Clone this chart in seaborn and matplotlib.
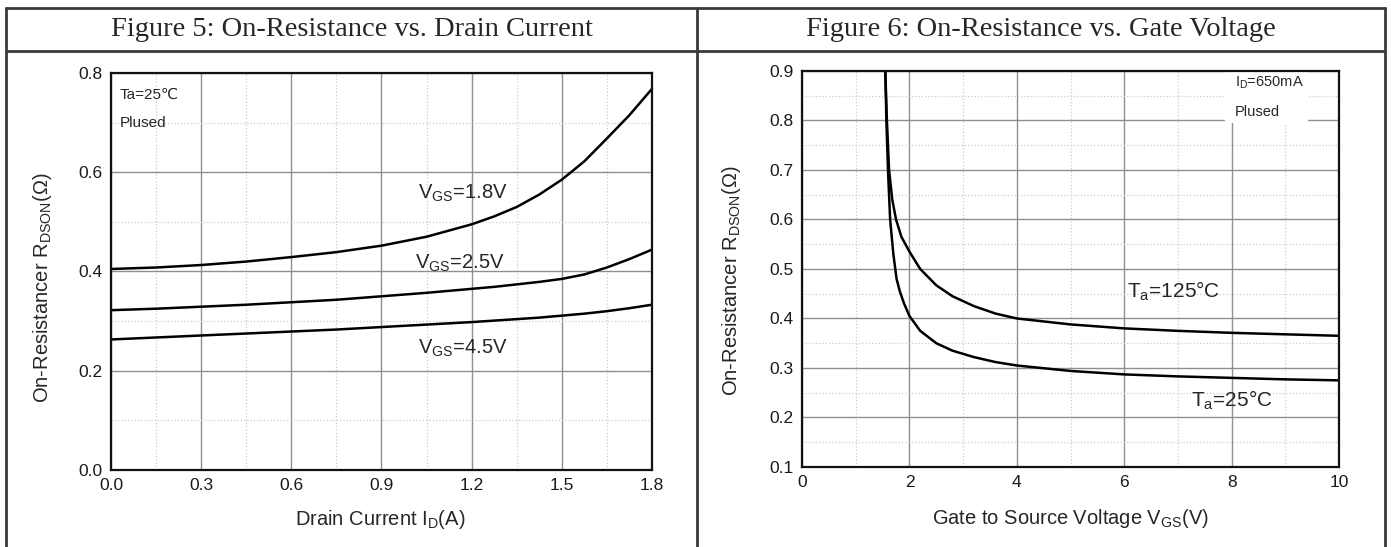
import numpy as np
import pandas as pd
import matplotlib
matplotlib.use("Agg")
import matplotlib.pyplot as plt
from matplotlib.lines import Line2D
from matplotlib.patches import Rectangle
from matplotlib.ticker import MultipleLocator
import seaborn as sns

# ─────────────────────────────────────────────
# DATA
# ─────────────────────────────────────────────

# Figure 5: R_DSON vs drain current
drain_current = [0.0, 0.15, 0.3, 0.45, 0.6, 0.75, 0.9, 1.05, 1.2, 1.275, 1.35, 1.425, 1.5, 1.575, 1.65, 1.725, 1.8]
r_vgs_18 = [0.405, 0.408, 0.413, 0.420, 0.429, 0.439, 0.452, 0.470, 0.495, 0.511, 0.530, 0.555, 0.585, 0.622, 0.668, 0.715, 0.768]
r_vgs_25 = [0.322, 0.325, 0.329, 0.333, 0.338, 0.343, 0.350, 0.357, 0.365, 0.369, 0.374, 0.379, 0.385, 0.394, 0.408, 0.425, 0.444]
r_vgs_45 = [0.263, 0.267, 0.271, 0.275, 0.279, 0.283, 0.288, 0.293, 0.298, 0.301, 0.304, 0.307, 0.311, 0.315, 0.320, 0.326, 0.333]

# Figure 6: R_DSON vs gate voltage
vgs_125 = [1.55, 1.58, 1.62, 1.68, 1.75, 1.85, 2.0, 2.2, 2.5, 2.8, 3.2, 3.6, 4.0, 5.0, 6.0, 7.0, 8.0, 9.0, 10.0]
r_125 = [0.9, 0.8, 0.7, 0.64, 0.6, 0.565, 0.535, 0.50, 0.467, 0.445, 0.425, 0.41, 0.40, 0.388, 0.38, 0.375, 0.371, 0.368, 0.365]
vgs_25c = [1.55, 1.57, 1.6, 1.64, 1.7, 1.76, 1.82, 1.9, 2.0, 2.2, 2.5, 2.8, 3.2, 3.6, 4.0, 5.0, 6.0, 7.0, 8.0, 9.0, 10.0]
r_25c = [0.9, 0.8, 0.7, 0.6, 0.53, 0.48, 0.455, 0.43, 0.405, 0.375, 0.35, 0.335, 0.322, 0.312, 0.305, 0.294, 0.287, 0.283, 0.28, 0.277, 0.275]

titles = ["Figure 5: On-Resistance vs. Drain Current", "Figure 6: On-Resistance vs. Gate Voltage"]

# ─────────────────────────────────────────────
# STYLE
# ─────────────────────────────────────────────

sns.set_style("white")
plt.rcParams["font.family"] = ["Liberation Sans", "DejaVu Sans"]
plt.rcParams["mathtext.fontset"] = "custom"
plt.rcParams["mathtext.rm"] = "Liberation Sans"
plt.rcParams["mathtext.it"] = "Liberation Sans:italic"

fig = plt.figure(figsize=(13.91, 5.47), dpi=100)
ax1 = fig.add_axes([0.0798, 0.1408, 0.3889, 0.7258])
ax2 = fig.add_axes([0.5766, 0.1463, 0.3861, 0.7239])


def style_axes(ax):
    ax.grid(True, which="major", color="#8f8f8f", linewidth=1.0, linestyle="-")
    ax.grid(True, which="minor", color="#cccccc", linewidth=0.9, linestyle=":")
    ax.set_axisbelow(True)
    for sp in ax.spines.values():
        sp.set_color("#111111")
        sp.set_linewidth(1.6)
        sp.set_visible(True)
    ax.tick_params(which="both", length=0, pad=6, labelsize=12.5, colors="#1a1a1a")


# ── Figure 5 ──
df5 = pd.DataFrame({
    "I": drain_current * 3,
    "R": r_vgs_18 + r_vgs_25 + r_vgs_45,
    "VGS": ["1.8"] * len(drain_current) + ["2.5"] * len(drain_current) + ["4.5"] * len(drain_current),
})
sns.lineplot(data=df5, x="I", y="R", hue="VGS", palette=["black"] * 3,
             linewidth=1.8, legend=False, ax=ax1)
ax1.set_xlim(0, 1.8)
ax1.set_ylim(0, 0.8)
ax1.xaxis.set_major_locator(MultipleLocator(0.3))
ax1.xaxis.set_minor_locator(MultipleLocator(0.15))
ax1.yaxis.set_major_locator(MultipleLocator(0.2))
ax1.yaxis.set_minor_locator(MultipleLocator(0.1))
ax1.xaxis.set_major_formatter(plt.FormatStrFormatter("%.1f"))
ax1.yaxis.set_major_formatter(plt.FormatStrFormatter("%.1f"))
style_axes(ax1)
ax1.set_xlabel(r"Drain Current I$_{\mathrm{D}}$(A)", fontsize=14.5)
ax1.set_ylabel(r"On-Resistancer R$_{\mathrm{DSON}}$($\Omega$)", fontsize=14.5)
ax1.xaxis.set_label_coords(0.497, -0.095)
ax1.yaxis.set_label_coords(-0.105, 0.458)

ax1.text(0.03, 0.755, "Ta=25℃", fontsize=11, va="center")
ax1.text(0.03, 0.70, "Plused", fontsize=11, va="center")
ax1.text(1.02, 0.558, r"V$_{\mathrm{GS}}$=1.8V", fontsize=14.5, va="center")
ax1.text(1.01, 0.417, r"V$_{\mathrm{GS}}$=2.5V", fontsize=14.5, va="center")
ax1.text(1.02, 0.245, r"V$_{\mathrm{GS}}$=4.5V", fontsize=14.5, va="center")

# ── Figure 6 ──
df6 = pd.DataFrame({
    "V": vgs_125 + vgs_25c,
    "R": r_125 + r_25c,
    "Ta": ["125"] * len(vgs_125) + ["25"] * len(vgs_25c),
})
sns.lineplot(data=df6, x="V", y="R", hue="Ta", palette=["black"] * 2, sort=False,
             linewidth=1.8, legend=False, ax=ax2)
ax2.set_xlim(0, 10)
ax2.set_ylim(0.1, 0.9)
ax2.xaxis.set_major_locator(MultipleLocator(2))
ax2.xaxis.set_minor_locator(MultipleLocator(1))
ax2.yaxis.set_major_locator(MultipleLocator(0.1))
ax2.yaxis.set_minor_locator(MultipleLocator(0.05))
ax2.yaxis.set_major_formatter(plt.FormatStrFormatter("%.1f"))
style_axes(ax2)
ax2.set_xlabel(r"Gate to Source Voltage V$_{\mathrm{GS}}$(V)", fontsize=14.5)
ax2.set_ylabel(r"On-Resistancer R$_{\mathrm{DSON}}$($\Omega$)", fontsize=14.5)
ax2.xaxis.set_label_coords(0.499, -0.10)
ax2.yaxis.set_label_coords(-0.11, 0.47)

# white backdrop behind the test-condition note
ax2.add_patch(Rectangle((7.88, 0.795), 1.54, 0.105, facecolor="white", edgecolor="none", zorder=1))
ax2.text(8.06, 0.876, r"I$_{\mathrm{D}}$=650mA", fontsize=10.5, va="center", zorder=2)
ax2.text(8.06, 0.818, "Plused", fontsize=10.5, va="center", zorder=2)
ax2.text(6.05, 0.455, r"T$_{\mathrm{a}}$=125°C", fontsize=15, va="center")
ax2.text(7.25, 0.235, r"T$_{\mathrm{a}}$=25°C", fontsize=15, va="center")

# ─────────────────────────────────────────────
# TABLE FRAME + HEADERS
# ─────────────────────────────────────────────

W, H = 1391, 547
frame_kw = dict(color="#3a3a3a", linewidth=2.0, transform=fig.transFigure)
fig.add_artist(Line2D([6 / W, 1385 / W], [1 - 8 / H, 1 - 8 / H], **frame_kw))
fig.add_artist(Line2D([6 / W, 1385 / W], [1 - 51 / H, 1 - 51 / H], **frame_kw))
for xp in (6, 697, 1385):
    fig.add_artist(Line2D([xp / W, xp / W], [0, 1 - 8 / H], **frame_kw))

fig.text(352 / W, 1 - 30 / H, titles[0], family="Liberation Serif", fontsize=20.5, ha="center", va="center")
fig.text(1041 / W, 1 - 30 / H, titles[1], family="Liberation Serif", fontsize=20.5, ha="center", va="center")

fig.savefig("out.png", dpi=100, facecolor="white")
